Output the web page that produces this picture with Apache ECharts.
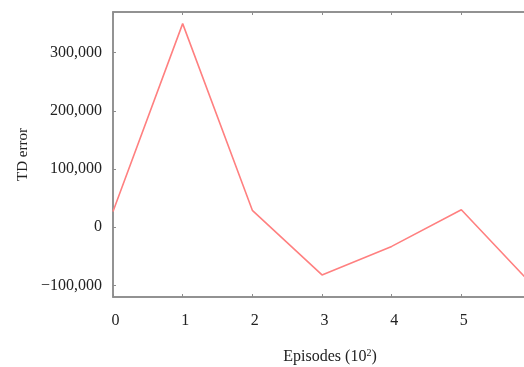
<!DOCTYPE html>
<html>
<head>
<meta charset="utf-8">
<script src="https://cdn.jsdelivr.net/npm/echarts@6/dist/echarts.min.js"></script>
<style>
    html, body { margin: 0; padding: 0; background: #fff; }
    #chart { width: 524px; height: 367px; }
</style>
</head>
<body>
<div id="chart"></div>
<script>
const episodes = [0, 1, 2, 3, 4, 5, 6];
const tdError = [27000, 350000, 29000, -82000, -33000, 30000, -97000];
const yTicks = [-100000, 0, 100000, 200000, 300000];

const myChart = echarts.init(document.getElementById('chart'));
const font = '"Liberation Serif", "DejaVu Serif", serif';
const axisColor = '#8c8c8c';

const option = {
    animation: false,
    grid: {
        left: 113,
        top: 12,
        right: -7,
        bottom: 70,
        outerBoundsMode: 'none',
        show: true,
        borderColor: axisColor,
        borderWidth: 1.5
    },
    xAxis: [
        {
            type: 'value',
            min: 0,
            max: 6,
            interval: 1,
            name: 'Episodes (10{sup|2})',
            nameLocation: 'middle',
            nameGap: 51,
            nameTextStyle: {
                fontFamily: font, fontSize: 16, color: '#222',
                padding: [0, 0, 0, 16],
                rich: { sup: { fontFamily: font, fontSize: 10, color: '#222', verticalAlign: 'top', padding: [0, 0, 8, 0] } }
            },
            axisLine: { show: true, onZero: false, lineStyle: { color: axisColor, width: 1.5 } },
            axisTick: { show: true, inside: true, length: 3, lineStyle: { color: axisColor } },
            axisLabel: {
                fontFamily: font, fontSize: 16, color: '#222', margin: 16,
                padding: [0, 0, 0, 5],
                showMaxLabel: true
            },
            splitLine: { show: false }
        },
        {
            // mirror ticks on the top edge
            type: 'value',
            position: 'top',
            min: 0,
            max: 6,
            interval: 1,
            axisLine: { show: true, onZero: false, lineStyle: { color: axisColor, width: 1.5 } },
            axisTick: { show: true, inside: true, length: 3, lineStyle: { color: axisColor } },
            axisLabel: { show: false },
            splitLine: { show: false }
        }
    ],
    yAxis: {
        type: 'value',
        min: -120000,
        max: 370000,
        name: 'TD error',
        nameLocation: 'middle',
        nameGap: 81,
        nameTextStyle: { fontFamily: font, fontSize: 15, color: '#222' },
        axisLine: { show: true, onZero: false, lineStyle: { color: axisColor, width: 1.5 } },
        axisTick: { show: true, inside: true, length: 3, customValues: yTicks, lineStyle: { color: axisColor } },
        axisLabel: {
            fontFamily: font, fontSize: 16, color: '#222', margin: 11,
            customValues: yTicks,
            formatter: function (v) {
                return v < 0 ? '\u2212' + Math.abs(v).toLocaleString('en-US') : v.toLocaleString('en-US');
            }
        },
        splitLine: { show: false }
    },
    series: [
        {
            type: 'line',
            data: episodes.map((e, i) => [e, tdError[i]]),
            showSymbol: false,
            lineStyle: { color: '#ff8080', width: 1.6 },
            clip: true
        }
    ]
};
myChart.setOption(option);
</script>
</body>
</html>
